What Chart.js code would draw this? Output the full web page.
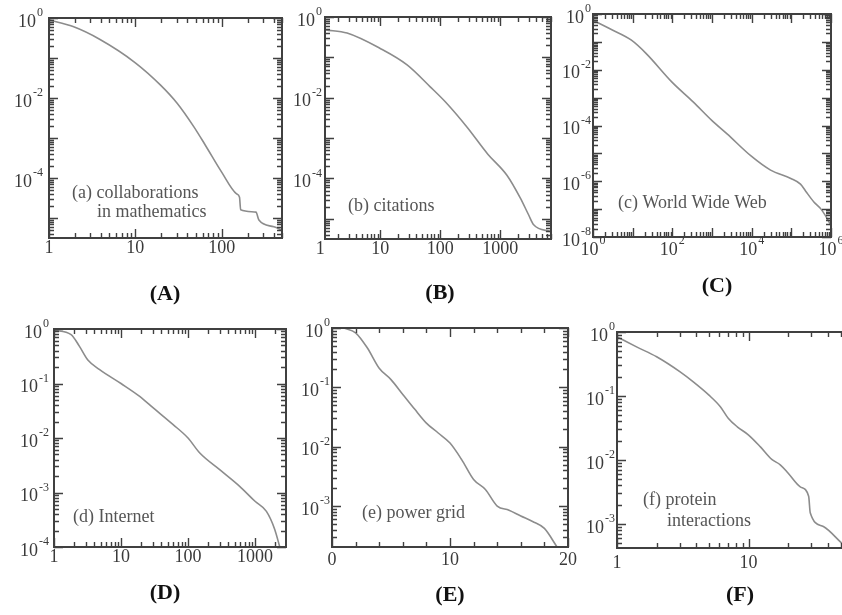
<!DOCTYPE html>
<html>
<head>
<meta charset="utf-8">
<script src="https://cdn.jsdelivr.net/npm/chart.js@4.4.1/dist/chart.umd.min.js"></script>
<style>
  html, body { margin: 0; padding: 0; background: #fff; overflow: hidden; }
  #wrap { position: relative; width: 842px; height: 615px; overflow: hidden; }
  #wrap canvas { position: absolute; left: 0; top: 0; }
  .tag { position: absolute; font: bold 22px "Liberation Serif", serif; color: #111;
         transform: translate(-50%, -50%); white-space: nowrap; }
</style>
</head>
<body>
<div id="wrap">
  <canvas id="cA" width="880" height="615"></canvas>
  <canvas id="cB" width="880" height="615"></canvas>
  <canvas id="cC" width="880" height="615"></canvas>
  <canvas id="cD" width="880" height="615"></canvas>
  <canvas id="cE" width="880" height="615"></canvas>
  <canvas id="cF" width="880" height="615"></canvas>
  <div class="tag" style="left:165px;top:293px">(A)</div>
  <div class="tag" style="left:440px;top:292px">(B)</div>
  <div class="tag" style="left:717px;top:285px">(C)</div>
  <div class="tag" style="left:165px;top:592px">(D)</div>
  <div class="tag" style="left:450px;top:594px">(E)</div>
  <div class="tag" style="left:740px;top:594px">(F)</div>
</div>
<script>
// cumulative degree distributions

// (a) collaborations in mathematics
const collabX = [1, 1.9, 3.9, 10, 19.6, 30.5, 47.7, 65, 100, 149, 161, 166, 250, 270, 403, 500];
const collabY = [0.89, 0.61, 0.29, 0.076, 0.021, 7.4e-3, 1.9e-3, 6.5e-4, 1.4e-4, 4.0e-5, 3.3e-5, 1.6e-5, 1.4e-5, 8.9e-6, 6.0e-6, 5.0e-6];
const collabXTicks = [1, 10, 100];
const collabYTicks = [1, 1e-2, 1e-4];

// (b) citations
const citeX = [1.24, 2.8, 10, 28, 68, 130, 280, 620, 1290, 2150, 2960, 3600, 7000];
const citeY = [0.48, 0.4, 0.166, 0.065, 0.0186, 7.1e-3, 1.86e-3, 4.0e-4, 1.2e-4, 3.3e-5, 1.26e-5, 7.1e-6, 4.8e-6];
const citeXTicks = [1, 10, 100, 1000];
const citeYTicks = [1, 1e-2, 1e-4];

// (c) World Wide Web
const webX = [1, 2.6, 9.3, 22, 98, 340, 1000, 2400, 9800, 30000, 97000, 170000, 230000, 370000, 560000, 890000, 1e6];
const webY = [0.6, 0.3, 0.115, 0.038, 3.6e-3, 6.9e-4, 1.5e-4, 5.0e-5, 7.9e-6, 2.5e-6, 1.26e-6, 7.9e-7, 4.4e-7, 1.8e-7, 1.0e-7, 3.5e-8, 2.5e-8];
const webXTicks = [1, 1e2, 1e4, 1e6];
const webYTicks = [1, 1e-2, 1e-4, 1e-6, 1e-8];

// (d) Internet
const netX = [1, 1.8, 2.4, 3.2, 4.8, 10, 19, 30, 60, 100, 150, 300, 590, 1000, 1480, 1970, 2340];
const netY = [0.95, 0.79, 0.48, 0.27, 0.18, 0.10, 0.058, 0.036, 0.0176, 0.010, 5.3e-3, 2.6e-3, 1.3e-3, 6.9e-4, 4.5e-4, 2.1e-4, 1.0e-4];
const netXTicks = [1, 10, 100, 1000];
const netYTicks = [1, 1e-1, 1e-2, 1e-3, 1e-4];

// (e) power grid
const gridX = [1, 2, 3, 4, 5, 6, 7, 8, 9, 10, 11, 12, 13, 14, 15, 16, 17, 18, 19.1];
const gridY = [1.0, 0.83, 0.46, 0.21, 0.135, 0.076, 0.043, 0.025, 0.017, 0.0115, 6.0e-3, 2.8e-3, 1.9e-3, 1.0e-3, 8.5e-4, 6.8e-4, 5.5e-4, 4.2e-4, 2.0e-4];
const gridXTicks = [0, 10, 20];
const gridYTicks = [1, 1e-1, 1e-2, 1e-3];

// (f) protein interactions
const protX = [1, 1.42, 2, 3, 3.8, 5, 6.1, 7, 8.2, 10, 12.3, 15, 17.4, 20, 24.7, 28.6, 29.4, 37, 51];
const protY = [0.84, 0.58, 0.41, 0.24, 0.166, 0.103, 0.068, 0.045, 0.033, 0.0245, 0.016, 0.0102, 8.4e-3, 6.2e-3, 3.8e-3, 2.7e-3, 1.5e-3, 9.1e-4, 5.0e-4];
const protXTicks = [1, 10];
const protYTicks = [1, 1e-1, 1e-2, 1e-3];

const PAGE_W = 880, PAGE_H = 615;
const BIG = '18px "Liberation Serif", serif';
const SMALL = '12px "Liberation Serif", serif';

function logTicks(min, max) {
  const out = [];
  for (let e = Math.floor(Math.log10(min)); e <= Math.ceil(Math.log10(max)); e++) {
    for (let k = 1; k <= 9; k++) {
      const v = k * Math.pow(10, e);
      if (v >= min * 0.999 && v <= max * 1.001) out.push({ v: v, major: k === 1 });
    }
  }
  return out;
}

function linTicks(min, max, step, majorStep) {
  const out = [];
  for (let v = min; v <= max + 1e-9; v += step) out.push({ v: v, major: v % majorStep === 0 });
  return out;
}

// "10" with a raised exponent, or a plain number
function drawLabel(ctx, base, exp, x, y, align) {
  ctx.font = BIG;
  const wb = ctx.measureText(base).width;
  ctx.font = SMALL;
  const we = exp ? ctx.measureText(exp).width + 1 : 0;
  const w = wb + we;
  const left = align === 'right' ? x - w : x - w / 2;
  ctx.textAlign = 'left';
  ctx.textBaseline = 'middle';
  ctx.font = BIG;
  ctx.fillText(base, left, exp ? y + 4 : y);
  if (exp) {
    ctx.font = SMALL;
    ctx.fillText(exp, left + wb + 1, y - 5);
  }
}

function framePlugin(cfg) {
  return {
    id: 'frame',
    afterDatasetsDraw(chart) {
      const ctx = chart.ctx, a = chart.chartArea;
      const xs = chart.scales.x, ys = chart.scales.y;
      ctx.save();
      ctx.strokeStyle = '#404040';
      ctx.lineWidth = 1.4;
      const xt = cfg.xLinear ? linTicks(cfg.xMin, cfg.xMax, 2, 10) : logTicks(cfg.xMin, cfg.xMax);
      const yt = logTicks(cfg.yMin, cfg.yMax);
      ctx.beginPath();
      xt.forEach(t => {
        const px = Math.round(xs.getPixelForValue(t.v)) + 0.5;
        const len = t.major ? 9 : 5;
        ctx.moveTo(px, a.bottom); ctx.lineTo(px, a.bottom - len);
        ctx.moveTo(px, a.top); ctx.lineTo(px, a.top + len);
      });
      yt.forEach(t => {
        const py = Math.round(ys.getPixelForValue(t.v)) + 0.5;
        const len = t.major ? 9 : 5;
        ctx.moveTo(a.left, py); ctx.lineTo(a.left + len, py);
        ctx.moveTo(a.right, py); ctx.lineTo(a.right - len, py);
      });
      ctx.stroke();
      ctx.lineWidth = 2;
      ctx.strokeRect(a.left, a.top, a.right - a.left, a.bottom - a.top);

      ctx.fillStyle = '#3a3a3a';
      cfg.xLabels.forEach(v => {
        const px = xs.getPixelForValue(v);
        if (cfg.xSup) drawLabel(ctx, '10', String(Math.round(Math.log10(v))), px, a.bottom + cfg.xOff, 'center');
        else drawLabel(ctx, String(v), '', px, a.bottom + cfg.xOff, 'center');
      });
      cfg.yLabels.forEach(v => {
        const py = ys.getPixelForValue(v);
        drawLabel(ctx, '10', String(Math.round(Math.log10(v))), a.left - cfg.yGap, py, 'right');
      });

      ctx.fillStyle = '#555';
      ctx.font = BIG;
      ctx.textAlign = 'left';
      ctx.textBaseline = 'middle';
      cfg.notes.forEach(n => ctx.fillText(n.text, n.x, n.y));
      ctx.restore();
    }
  };
}

function makePanel(id, xs, ys, cfg) {
  const pts = xs.map((x, i) => ({ x: x, y: ys[i] }));
  new Chart(document.getElementById(id), {
    type: 'line',
    data: {
      datasets: [{
        data: pts,
        borderColor: '#8c8c8c',
        borderWidth: 1.6,
        pointRadius: 0,
        fill: false,
        cubicInterpolationMode: 'monotone'
      }]
    },
    options: {
      responsive: false,
      animation: false,
      layout: {
        padding: {
          left: cfg.box[0], top: cfg.box[1],
          right: PAGE_W - cfg.box[2], bottom: PAGE_H - cfg.box[3]
        }
      },
      scales: {
        x: { type: cfg.xLinear ? 'linear' : 'logarithmic', min: cfg.xMin, max: cfg.xMax, display: false },
        y: { type: 'logarithmic', min: cfg.yMin, max: cfg.yMax, display: false }
      },
      plugins: { legend: { display: false }, tooltip: { enabled: false } }
    },
    plugins: [framePlugin(cfg)]
  });
}

makePanel('cA', collabX, collabY, {
  box: [49, 18, 282, 238], xMin: 1, xMax: 500, yMin: 3.16e-6, yMax: 1,
  xLabels: collabXTicks, yLabels: collabYTicks, xOff: 10, yGap: 6,
  notes: [{ text: '(a) collaborations', x: 72, y: 193 }, { text: 'in mathematics', x: 97, y: 212 }]
});
makePanel('cB', citeX, citeY, {
  box: [325, 17, 551, 239], xMin: 1.2, xMax: 7000, yMin: 3.16e-6, yMax: 1,
  xLabels: citeXTicks, yLabels: citeYTicks, xOff: 10, yGap: 3,
  notes: [{ text: '(b) citations', x: 348, y: 206 }]
});
makePanel('cC', webX, webY, {
  box: [593, 14, 831, 237], xMin: 1, xMax: 1e6, yMin: 1e-8, yMax: 1,
  xLabels: webXTicks, xSup: true, yLabels: webYTicks, xOff: 9, yGap: 2,
  notes: [{ text: '(c) World Wide Web', x: 618, y: 203 }]
});
makePanel('cD', netX, netY, {
  box: [54, 329, 286, 547], xMin: 1, xMax: 2900, yMin: 1e-4, yMax: 1,
  xLabels: netXTicks, yLabels: netYTicks, xOff: 10, yGap: 5,
  notes: [{ text: '(d) Internet', x: 73, y: 517 }]
});
makePanel('cE', gridX, gridY, {
  box: [332, 328, 568, 547], xLinear: true, xMin: 0, xMax: 20, yMin: 2.04e-4, yMax: 1,
  xLabels: gridXTicks, yLabels: gridYTicks, xOff: 13, yGap: 2,
  notes: [{ text: '(e) power grid', x: 362, y: 513 }]
});
makePanel('cF', protX, protY, {
  box: [617, 332, 851, 548], xMin: 1, xMax: 60, yMin: 4.2e-4, yMax: 1,
  xLabels: protXTicks, yLabels: protYTicks, xOff: 15, yGap: 2,
  notes: [{ text: '(f) protein', x: 643, y: 500 }, { text: 'interactions', x: 667, y: 521 }]
});
</script>
</body>
</html>
